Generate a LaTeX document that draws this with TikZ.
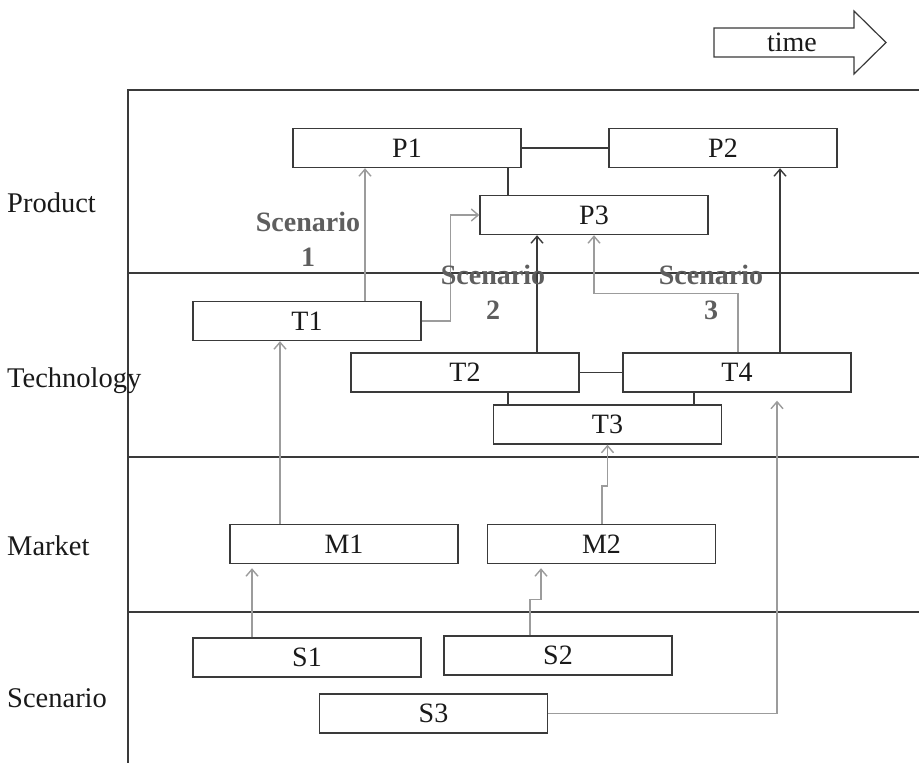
\documentclass[tikz,border=0pt]{standalone}
\usepackage{fontspec}
\setmainfont{Liberation Serif}
\usetikzlibrary{arrows.meta,calc}
\definecolor{boxline}{HTML}{3A3A3A}
\definecolor{txt}{HTML}{1A1A1A}
\definecolor{garrow}{HTML}{9C9C9C}
\definecolor{scen}{HTML}{5E5E5E}
\tikzset{
  boxnode/.style={draw=boxline, line width=1.4pt, rectangle, minimum width=228pt, minimum height=39pt, inner sep=0pt, text=txt, font=\fontsize{28}{32}\selectfont},
  lane/.style={anchor=west, inner sep=0pt, text=txt, font=\fontsize{28.5}{32}\selectfont},
  scenlbl/.style={align=center, inner sep=0pt, text=scen, font=\fontsize{28}{35}\selectfont\bfseries},
  frameline/.style={draw=boxline, line width=1.4pt},
  blkline/.style={draw=boxline, line width=1.4pt},
  blkarr/.style={draw=boxline, line width=1.4pt, -{Straight Barb[length=7pt,width=12pt]}},
  grayarr/.style={draw=garrow, line width=1.4pt, -{Straight Barb[length=7pt,width=12pt]}},
}
\begin{document}
\begin{tikzpicture}[x=1pt,y=-1pt]
\useasboundingbox (0,0) rectangle (919,763);
% frame
\draw[frameline] (128,763) -- (128,90) -- (919,90);
\draw[frameline] (128,273) -- (919,273);
\draw[frameline] (128,457) -- (919,457);
\draw[frameline, line width=2.4pt] (128,612) -- (919,612);
% time arrow
\draw[boxline, line width=1.2pt, fill=white] (714,28) -- (854,28) -- (854,11) -- (886,42.5) -- (854,74) -- (854,57) -- (714,57) -- cycle;
\node[inner sep=0pt, text=txt, font=\fontsize{28}{32}\selectfont] (timelbl) at (792,42) {time};
% lane labels
\node[lane] (lprod) at (7,203) {Product};
\node[lane] (ltech) at (7,381) {Technology};
\node[lane] (lmark) at (7,546) {Market};
\node[lane] (lscen) at (7,698) {Scenario};
% boxes
\node[boxnode] (P1) at (407,148) {P1};
\node[boxnode] (P2) at (723,148) {P2};
\node[boxnode] (P3) at (594,215) {P3};
\node[boxnode] (T1) at (307,321) {T1};
\node[boxnode] (T2) at (465,372.5) {T2};
\node[boxnode] (T4) at (737,372.5) {T4};
\node[boxnode] (T3) at (607.5,424.5) {T3};
\node[boxnode] (M1) at (344,544) {M1};
\node[boxnode] (M2) at (601.5,544) {M2};
\node[boxnode] (S1) at (307,657.5) {S1};
\node[boxnode] (S2) at (558,655.5) {S2};
\node[boxnode] (S3) at (433.5,713.5) {S3};
% black links
\draw[blkline] (P1.east) -- (P2.west);
\draw[blkline] ([xshift=101]P1.south) -- ([xshift=101]P1.south |- P3.north);
\draw[blkline] (T2.east) -- (T4.west);
\draw[blkline] ([xshift=43]T2.south) -- ([xshift=43]T2.south |- T3.north);
\draw[blkline] ([xshift=-43]T4.south) -- ([xshift=-43]T4.south |- T3.north);
\draw[blkarr] ([xshift=72]T2.north) -- ([xshift=72]T2.north |- P3.south);
\draw[blkarr] ([xshift=43]T4.north) -- ([xshift=43]T4.north |- P2.south);
% gray arrows
\draw[grayarr] ([xshift=58]T1.north) -- ([xshift=58]T1.north |- P1.south);
\draw[grayarr] (T1.east) -- ++(29,0) |- (P3.west);
\draw[grayarr] ([xshift=1]T4.north) |- ($(P3.south)+(0,58)$) -- (P3.south);
\draw[grayarr] ([xshift=-64]M1.north) -- ([xshift=-64]M1.north |- T1.south);
\draw[grayarr] ([xshift=0.5]M2.north) -- ++(0,-38) -| (T3.south);
\draw[grayarr, shorten >=4pt] ([xshift=-55]S1.north) -- ([xshift=-55]S1.north |- M1.south);
\draw[grayarr, shorten >=4pt] ([xshift=-28]S2.north) -- ++(0,-36) -| ([xshift=-60.5]M2.south);
\draw[grayarr, shorten >=8pt] (S3.east) -| ([xshift=40]T4.south);
% scenario labels
\node[scenlbl] (sc1) at (308,239) {Scenario\\1};
\node[scenlbl] (sc2) at (493,292) {Scenario\\2};
\node[scenlbl] (sc3) at (711,292) {Scenario\\3};
\end{tikzpicture}
\end{document}
